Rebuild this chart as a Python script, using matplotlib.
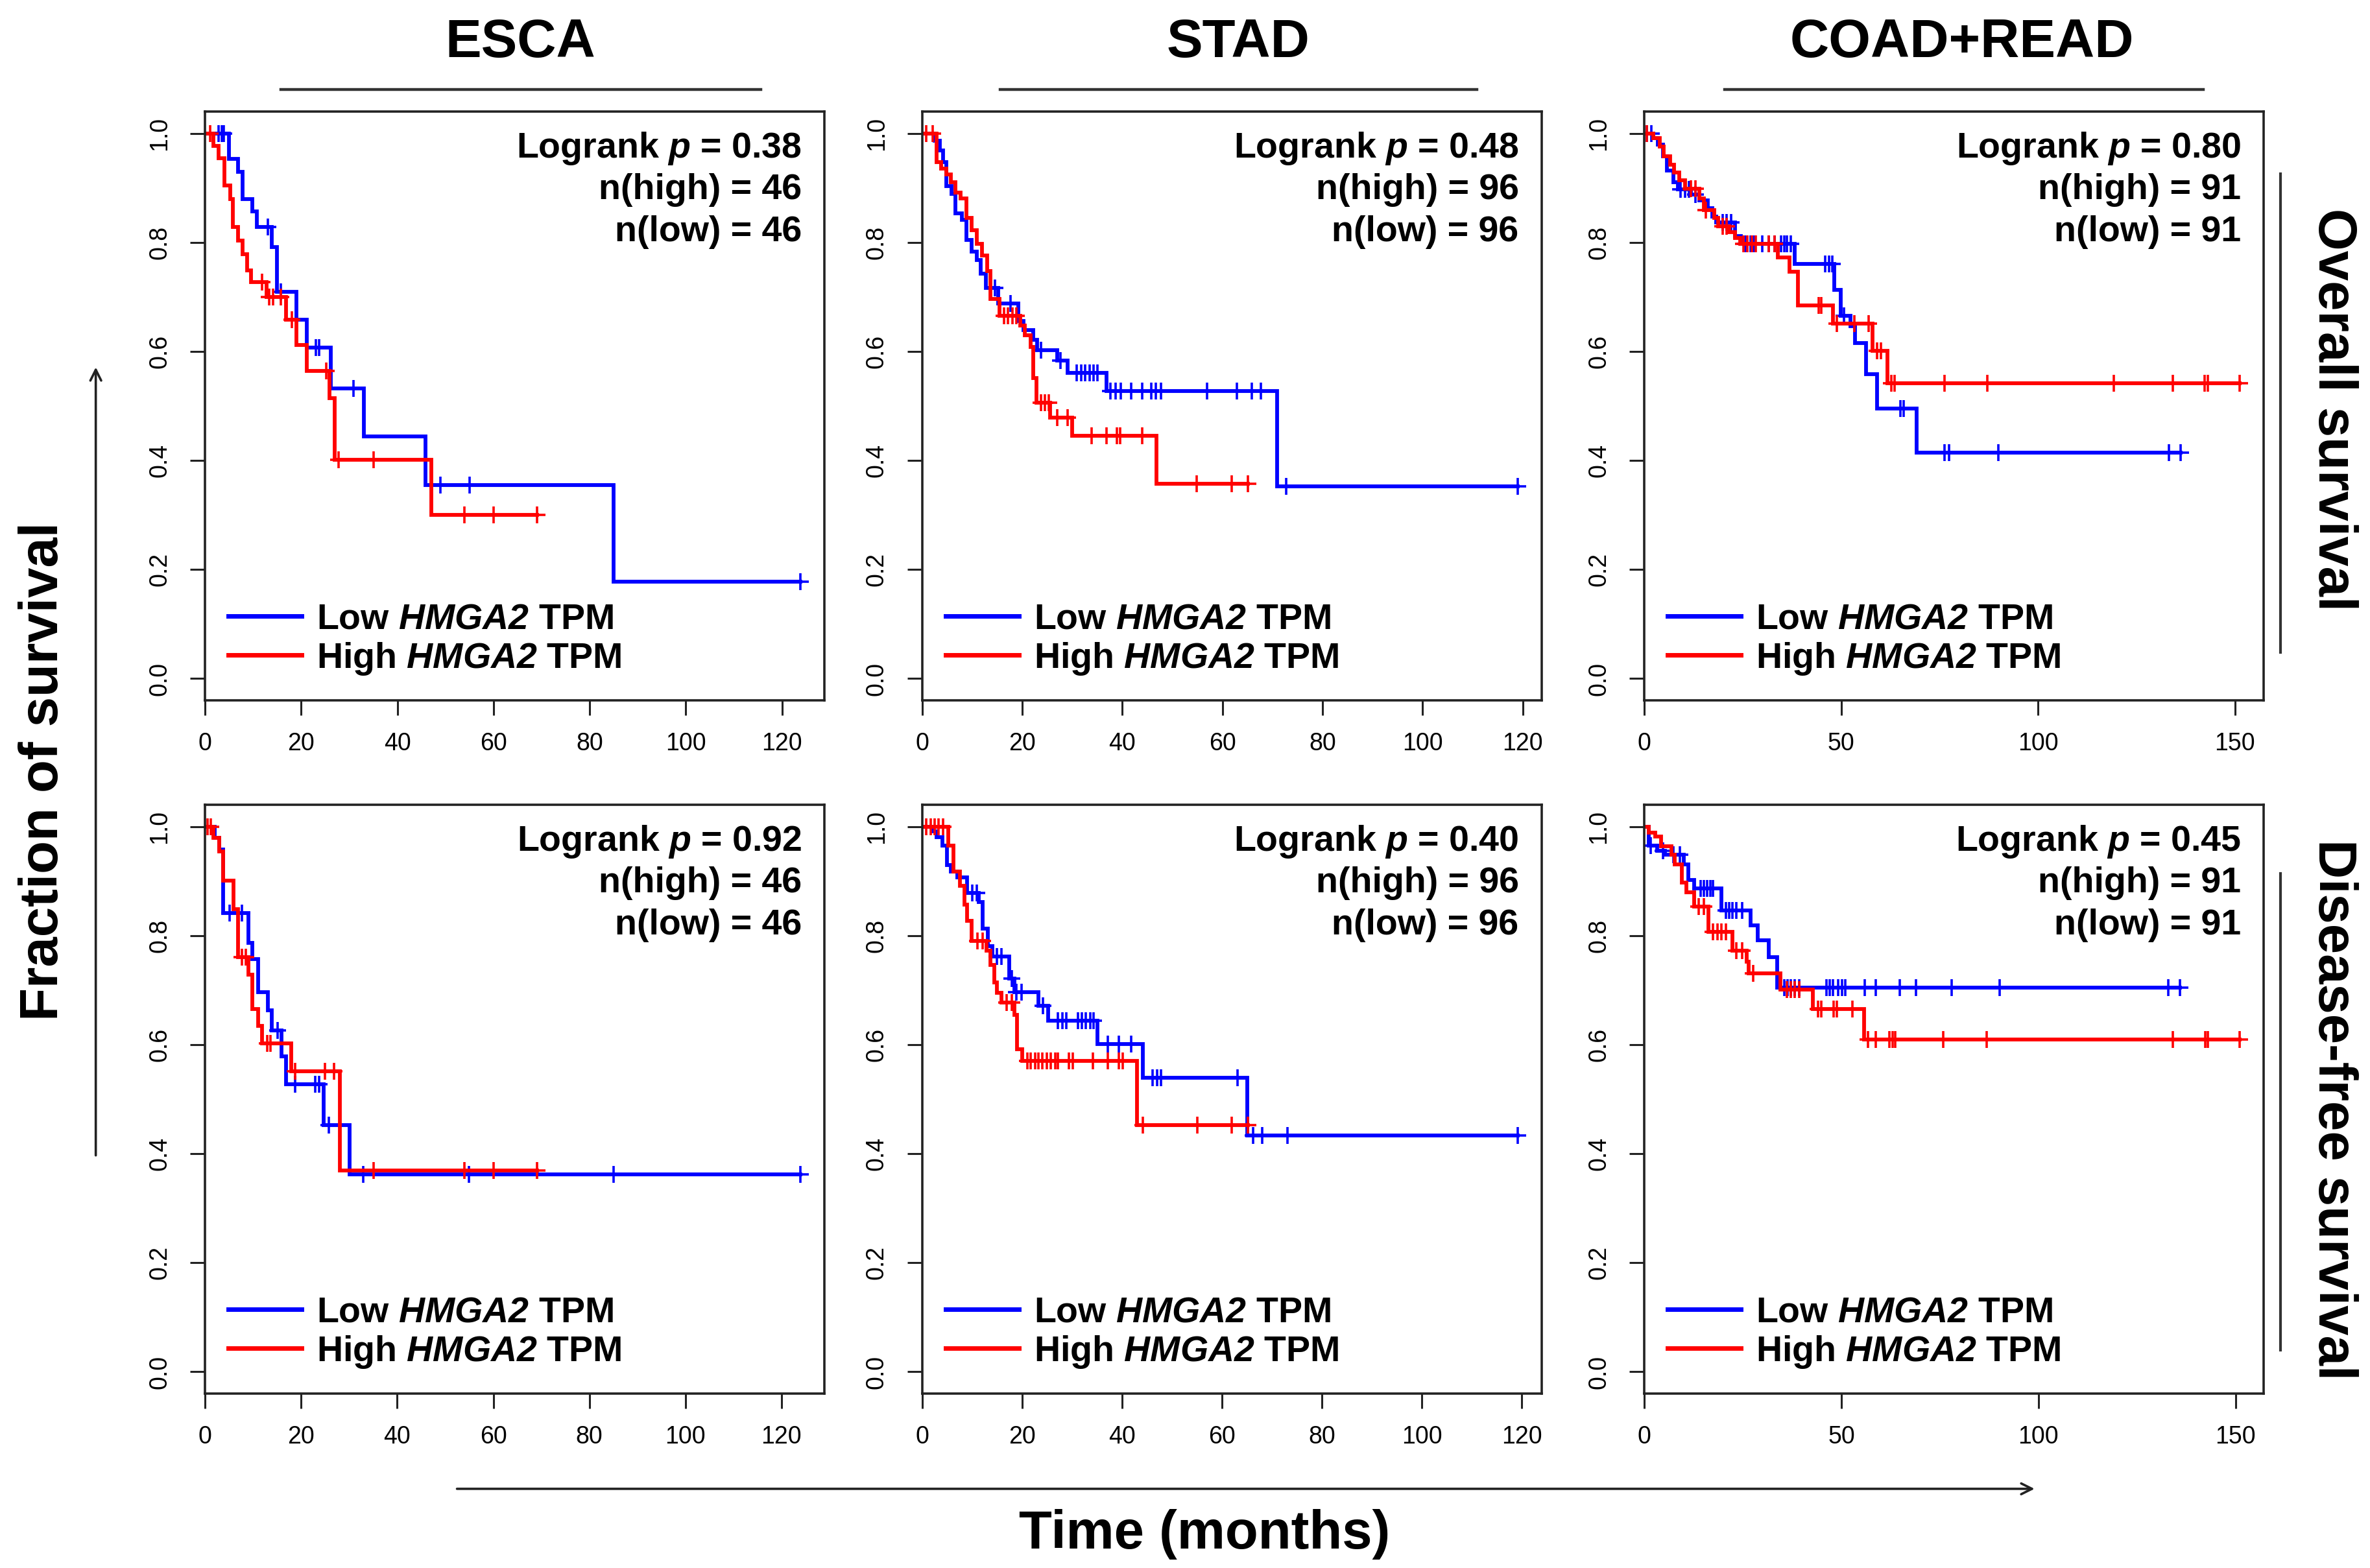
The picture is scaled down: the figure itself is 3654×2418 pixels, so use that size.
import numpy as np
import matplotlib
matplotlib.use("Agg")
import matplotlib.pyplot as plt
from matplotlib.lines import Line2D
from matplotlib.patches import FancyArrowPatch
from matplotlib.font_manager import FontProperties

plt.rcParams['font.family'] = ['Liberation Sans', 'DejaVu Sans']
plt.rcParams['mathtext.fontset'] = 'custom'
plt.rcParams['mathtext.rm'] = 'Liberation Sans:italic:bold'
plt.rcParams['mathtext.it'] = 'Liberation Sans:italic:bold'
plt.rcParams['mathtext.bf'] = 'Liberation Sans:italic:bold'

# ---------------- data ----------------
cancers = ["ESCA", "STAD", "COAD+READ"]
endpoints = ["Overall survival", "Disease-free survival"]
pvalues = [["0.38", "0.48", "0.80"], ["0.92", "0.40", "0.45"]]
n_high = [46, 96, 91]
n_low = [46, 96, 91]
xticks_list = [[0, 20, 40, 60, 80, 100, 120], [0, 20, 40, 60, 80, 100, 120], [0, 50, 100, 150]]
yticks = [0.0, 0.2, 0.4, 0.6, 0.8, 1.0]
ytick_labels = ["0.0", "0.2", "0.4", "0.6", "0.8", "1.0"]
legend_labels = ["Low $\\mathit{HMGA2}$ TPM", "High $\\mathit{HMGA2}$ TPM"]

# ESCA overall survival
esca_os_low_t = [5.0, 6.8, 7.8, 9.8, 10.8, 13.9, 15.0, 19.0, 21.1, 26.1, 33.0, 45.9, 85.0]
esca_os_low_s = [0.953, 0.929, 0.880, 0.857, 0.828, 0.791, 0.709, 0.658, 0.607, 0.532, 0.444, 0.355, 0.178]
esca_os_low_c = [2.8, 3.5, 3.9, 13.0, 15.7, 23.0, 23.7, 30.9, 49.0, 55.0, 123.9]
esca_os_high_t = [1.8, 2.8, 4.0, 5.2, 5.8, 6.8, 7.8, 8.8, 9.6, 12.8, 16.8, 19.0, 21.1, 25.9, 27.0, 47.0]
esca_os_high_s = [0.977, 0.954, 0.905, 0.880, 0.829, 0.804, 0.778, 0.749, 0.727, 0.700, 0.658, 0.612, 0.564, 0.514, 0.401, 0.300]
esca_os_high_c = [1.1, 11.9, 13.3, 14.2, 15.7, 18.0, 25.2, 27.8, 35.0, 53.9, 60.0, 69.1]

# STAD overall survival
stad_os_low_t = [2.5, 3.5, 4.2, 4.8, 5.9, 6.7, 7.9, 8.8, 9.9, 10.9, 11.7, 12.7, 15.2, 19.2, 20.2,
                 22.2, 23.0, 27.0, 29.1, 36.8, 70.9]
stad_os_low_s = [0.987, 0.969, 0.947, 0.903, 0.889, 0.854, 0.841, 0.805, 0.783, 0.768, 0.743, 0.717,
                 0.688, 0.656, 0.639, 0.621, 0.602, 0.583, 0.561, 0.528, 0.353]
stad_os_low_c = [14.6, 17.6, 23.7, 27.6, 30.9, 31.8, 32.6, 33.4, 34.3, 35.0, 37.6, 38.6, 39.7, 41.8,
                 43.9, 45.8, 46.7, 47.7, 56.9, 62.9, 65.9, 67.7, 72.7, 119.0]
stad_os_high_t = [2.9, 3.8, 4.8, 5.7, 6.7, 7.7, 8.8, 9.9, 10.9, 11.9, 13.0, 13.6, 15.5, 19.6, 20.5,
                  21.7, 22.2, 22.8, 25.5, 29.9, 46.8]
stad_os_high_s = [0.947, 0.936, 0.925, 0.910, 0.892, 0.881, 0.845, 0.823, 0.798, 0.776, 0.747, 0.696,
                  0.666, 0.648, 0.630, 0.608, 0.551, 0.506, 0.479, 0.446, 0.357]
stad_os_high_c = [0.8, 2.1, 16.3, 17.1, 18.0, 18.8, 23.7, 24.5, 25.3, 27.0, 29.1, 33.9, 36.8, 38.9,
                  39.5, 43.9, 54.9, 61.9, 65.1]

# COAD+READ overall survival
coad_os_low_t = [2.3, 3.4, 4.7, 5.7, 7.4, 8.5, 11.9, 14.0, 16.1, 17.2, 18.3, 23.1, 24.6, 38.2, 48.2,
                 49.9, 52.3, 53.5, 56.3, 59.2, 69.1]
coad_os_low_s = [0.991, 0.980, 0.958, 0.932, 0.910, 0.898, 0.888, 0.877, 0.863, 0.848, 0.837, 0.812,
                 0.797, 0.761, 0.713, 0.666, 0.647, 0.615, 0.558, 0.496, 0.414]
coad_os_low_c = [0.7, 1.8, 9.2, 10.3, 11.4, 13.0, 19.9, 20.9, 22.0, 25.7, 27.0, 27.8, 30.0, 31.6, 33.1,
                 34.7, 35.5, 36.3, 37.2, 45.9, 46.9, 47.8, 50.8, 65.0, 65.9, 76.2, 77.4, 90.0, 133.2, 136.2]
coad_os_high_t = [2.3, 3.9, 5.0, 6.6, 7.6, 8.9, 10.3, 14.0, 15.1, 17.7, 18.8, 21.5, 23.1, 24.4, 34.0,
                  36.9, 39.0, 48.0, 57.9, 61.8]
coad_os_high_s = [0.991, 0.976, 0.958, 0.943, 0.928, 0.914, 0.899, 0.881, 0.859, 0.845, 0.830, 0.819,
                  0.808, 0.797, 0.772, 0.746, 0.684, 0.651, 0.601, 0.542]
coad_os_high_c = [0.7, 11.9, 13.0, 15.6, 19.9, 20.9, 25.2, 26.2, 27.3, 28.4, 31.6, 33.1, 44.3, 45.0,
                  48.9, 53.3, 57.0, 59.2, 60.2, 62.7, 63.5, 76.2, 87.1, 119.2, 134.3, 142.4, 143.2, 151.3]

# ESCA disease-free survival
esca_dfs_low_t = [2.0, 2.9, 3.7, 9.0, 9.8, 11.0, 13.1, 13.9, 15.9, 16.8, 24.7, 30.1]
esca_dfs_low_s = [0.980, 0.958, 0.841, 0.787, 0.757, 0.697, 0.663, 0.626, 0.579, 0.528, 0.452, 0.362]
esca_dfs_low_c = [5.1, 7.7, 15.1, 18.8, 22.9, 23.8, 25.8, 32.9, 54.9, 85.0, 124.0]
esca_dfs_high_t = [1.8, 2.9, 3.7, 5.9, 6.8, 9.0, 9.8, 11.1, 11.8, 17.9, 28.1]
esca_dfs_high_s = [0.980, 0.954, 0.901, 0.849, 0.761, 0.728, 0.666, 0.634, 0.602, 0.551, 0.369]
esca_dfs_high_c = [0.5, 1.2, 7.7, 8.5, 12.9, 13.6, 18.8, 24.9, 26.8, 35.1, 54.0, 60.1, 69.1]

# STAD disease-free survival
stad_dfs_low_t = [2.1, 2.9, 4.0, 5.0, 5.8, 7.1, 9.0, 11.3, 12.1, 13.2, 14.0, 17.4, 18.4, 23.2, 25.2,
                  35.1, 44.1, 65.0]
stad_dfs_low_s = [0.991, 0.981, 0.965, 0.929, 0.918, 0.907, 0.878, 0.862, 0.813, 0.781, 0.762, 0.721,
                  0.697, 0.672, 0.644, 0.601, 0.540, 0.433]
stad_dfs_low_c = [10.0, 10.9, 15.0, 15.9, 18.0, 18.8, 19.9, 24.2, 27.2, 28.0, 28.8, 31.2, 32.0, 32.8,
                  33.7, 34.3, 37.2, 39.3, 41.8, 46.1, 47.0, 47.8, 63.1, 66.2, 68.1, 73.1, 119.2]
stad_dfs_high_t = [5.2, 6.3, 7.5, 8.4, 9.0, 9.9, 12.9, 13.6, 14.4, 15.0, 15.9, 18.4, 19.0, 20.0, 43.0]
stad_dfs_high_s = [0.965, 0.918, 0.892, 0.857, 0.827, 0.790, 0.772, 0.746, 0.714, 0.695, 0.677, 0.655,
                   0.592, 0.570, 0.453]
stad_dfs_high_c = [0.8, 1.7, 2.5, 3.3, 4.2, 11.0, 12.1, 16.9, 18.0, 21.1, 21.7, 22.6, 23.2, 24.1, 24.9,
                   25.7, 26.6, 27.2, 29.4, 30.1, 34.1, 37.2, 39.3, 40.1, 44.1, 55.1, 62.0, 65.2]

# COAD+READ disease-free survival
coad_dfs_low_t = [1.1, 3.2, 5.3, 10.1, 11.1, 12.7, 19.6, 26.9, 28.7, 31.5, 33.7]
coad_dfs_low_s = [0.965, 0.956, 0.949, 0.931, 0.902, 0.887, 0.846, 0.819, 0.792, 0.761, 0.705]
coad_dfs_low_c = [1.6, 4.8, 7.4, 9.0, 14.3, 15.2, 15.9, 16.7, 17.5, 20.7, 21.5, 22.3, 23.4, 24.9, 35.6,
                  36.4, 37.2, 38.2, 39.3, 46.2, 47.0, 47.8, 49.2, 50.2, 51.0, 55.9, 58.7, 64.8, 69.0,
                  78.0, 90.2, 133.0, 135.9]
coad_dfs_high_t = [1.1, 2.7, 4.2, 6.9, 7.7, 9.6, 10.6, 12.7, 16.2, 22.3, 26.0, 26.5, 34.5, 42.8, 55.7]
coad_dfs_high_s = [0.989, 0.982, 0.964, 0.949, 0.931, 0.898, 0.880, 0.854, 0.807, 0.773, 0.752, 0.731,
                   0.701, 0.665, 0.610]
coad_dfs_high_c = [13.8, 15.2, 17.5, 18.6, 19.6, 20.7, 23.4, 24.9, 27.6, 36.1, 37.2, 38.2, 39.3, 44.1,
                   44.9, 48.1, 48.8, 52.8, 56.8, 58.7, 62.1, 63.0, 63.7, 75.9, 86.8, 134.0, 142.3, 143.0, 151.1]

curves = [
    [((esca_os_low_t, esca_os_low_s, esca_os_low_c), (esca_os_high_t, esca_os_high_s, esca_os_high_c)),
     ((stad_os_low_t, stad_os_low_s, stad_os_low_c), (stad_os_high_t, stad_os_high_s, stad_os_high_c)),
     ((coad_os_low_t, coad_os_low_s, coad_os_low_c), (coad_os_high_t, coad_os_high_s, coad_os_high_c))],
    [((esca_dfs_low_t, esca_dfs_low_s, esca_dfs_low_c), (esca_dfs_high_t, esca_dfs_high_s, esca_dfs_high_c)),
     ((stad_dfs_low_t, stad_dfs_low_s, stad_dfs_low_c), (stad_dfs_high_t, stad_dfs_high_s, stad_dfs_high_c)),
     ((coad_dfs_low_t, coad_dfs_low_s, coad_dfs_low_c), (coad_dfs_high_t, coad_dfs_high_s, coad_dfs_high_c))],
]

BLUE = "#0000FF"
RED = "#FF0000"
colors = [BLUE, RED]

# ---------------- figure ----------------
fig = plt.figure(figsize=(36.55, 24.18), dpi=100)
lefts = [0.0865, 0.389, 0.6936]
bottoms = [0.5533, 0.1112]
aw, ah = 0.2613, 0.3755

bold40 = FontProperties(family='Liberation Sans', weight='bold', size=40)


def draw_km(ax, t, s, c, color):
    t = np.asarray(t, float)
    s = np.asarray(s, float)
    c = np.asarray(c, float)
    tend = max(t.max(), c.max())
    xs = np.concatenate([[0.0], t, [tend]])
    ys = np.concatenate([[1.0], s, [s[-1]]])
    ax.step(xs, ys, where='post', color=color, lw=4.2, solid_joinstyle='miter')
    lev = np.concatenate([[1.0], s])
    cy = lev[np.searchsorted(t, c, side='right')]
    ax.plot(c, cy, ls='none', marker='+', ms=19, mew=2.6, color=color)
    return tend


for r in range(2):
    for ci in range(3):
        ax = fig.add_axes([lefts[ci], bottoms[r], aw, ah])
        tmax = 0
        for g in range(2):
            t, s, c = curves[r][ci][g]
            tmax = max(tmax, draw_km(ax, t, s, c, colors[g]))
        ax.set_xlim(0, tmax * 1.04)
        ax.set_ylim(-0.04, 1.04)
        ax.set_xticks(xticks_list[ci])
        ax.set_xticklabels([str(v) for v in xticks_list[ci]], fontsize=27)
        ax.set_yticks(yticks)
        ax.set_yticklabels(ytick_labels, fontsize=27, rotation=90, va='center')
        ax.tick_params(length=16.5, width=2.2, color='#222222')
        ax.tick_params(axis='x', pad=19)
        ax.tick_params(axis='y', pad=21)
        for sp in ax.spines.values():
            sp.set_linewidth(2.6)
            sp.set_color('#222222')
        ax.text(0.963, 1 - 0.078, "Logrank $\\mathit{p}$ = " + pvalues[r][ci], transform=ax.transAxes,
                ha='right', va='baseline', fontsize=40, fontweight='bold')
        ax.text(0.963, 1 - 0.149, "n(high) = %d" % n_high[ci], transform=ax.transAxes,
                ha='right', va='baseline', fontsize=40, fontweight='bold')
        ax.text(0.963, 1 - 0.220, "n(low) = %d" % n_low[ci], transform=ax.transAxes,
                ha='right', va='baseline', fontsize=40, fontweight='bold')
        handles = [Line2D([], [], color=BLUE, lw=5), Line2D([], [], color=RED, lw=5)]
        ax.legend(handles, legend_labels, loc='lower left', bbox_to_anchor=(0.0377, 0.040),
                  borderaxespad=0, borderpad=0, frameon=False, prop=bold40,
                  handlelength=2.03, handletextpad=0.42, labelspacing=0.12)

# column titles and underlines
title_x = [0.2194, 0.5224, 0.8277]
line_spans = [(0.1185, 0.3210), (0.4219, 0.6230), (0.7275, 0.9294)]
for ci in range(3):
    fig.text(title_x[ci], 0.9725, cancers[ci], ha='center', va='center', fontsize=60, fontweight='bold')
    fig.add_artist(Line2D(line_spans[ci], [0.943, 0.943], transform=fig.transFigure,
                          color='#333333', lw=3.2))

# right-hand labels and bars
fig.text(0.984, 0.739, endpoints[0], rotation=270, ha='center', va='center', fontsize=60, fontweight='bold')
fig.text(0.984, 0.2925, endpoints[1], rotation=270, ha='center', va='center', fontsize=60, fontweight='bold')
fig.add_artist(Line2D([0.962, 0.962], [0.889, 0.584], transform=fig.transFigure, color='#333333', lw=3))
fig.add_artist(Line2D([0.962, 0.962], [0.443, 0.139], transform=fig.transFigure, color='#333333', lw=3))

# axis labels and arrows
fig.text(0.0183, 0.508, "Fraction of survival", rotation=90, ha='center', va='center',
         fontsize=60, fontweight='bold')
fig.text(0.508, 0.0214, "Time (months)", ha='center', va='center', fontsize=60, fontweight='bold')
fig.add_artist(FancyArrowPatch((0.0404, 0.262), (0.0404, 0.767), transform=fig.transFigure,
                               arrowstyle='->,head_length=12,head_width=6', lw=2.6, color='#222222'))
fig.add_artist(FancyArrowPatch((0.192, 0.0505), (0.859, 0.0505), transform=fig.transFigure,
                               arrowstyle='->,head_length=12,head_width=6', lw=2.6, color='#222222'))

fig.savefig("out.png", dpi=100, facecolor='white')
